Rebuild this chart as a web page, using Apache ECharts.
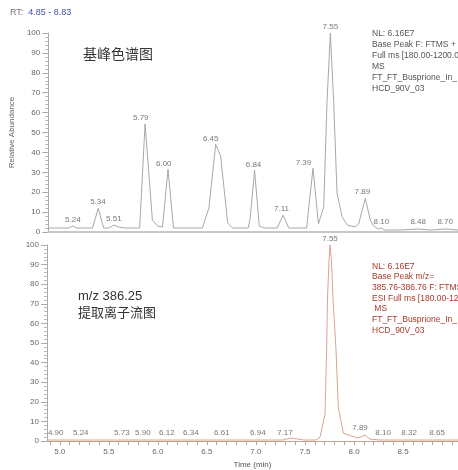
<!DOCTYPE html>
<html><head><meta charset="utf-8">
<script src="https://cdn.jsdelivr.net/npm/echarts@6/dist/echarts.min.js"></script>
<style>html,body{margin:0;padding:0;background:#fff}#c{width:458px;height:470px}</style>
</head><body><div id="c"></div>
<script>
// ---- data (time in min on the drawn axis, relative abundance %) ----
var topTimes  = [4.87,5.08,5.12,5.16,5.323,5.381,5.436,5.49,5.541,5.592,5.653,5.805,5.860,5.935,5.987,6.038,6.051,6.095,6.150,6.204,6.446,6.513,6.582,6.633,6.705,6.755,6.915,6.935,6.980,7.028,7.082,7.211,7.272,7.330,7.512,7.577,7.633,7.687,7.721,7.755,7.789,7.823,7.874,7.926,8.010,8.044,8.112,8.163,8.197,8.245,8.276,8.306,8.469,8.653,8.776,8.929,9.06];
var topValues = [2,2,3,2,2,11.9,2,2,3.5,2.5,2,2,54.3,6,3,2.5,3,31.5,2,2,2,12,44,38,4.5,2,2,7,31,3,2,2,8.5,2,2,32,4,12.7,66,100,65,19.6,7.7,3.5,2.5,4,17,6,3,1.5,2,1,1,1.5,1,1.5,1];
var topLabelTimes  = [5.122,5.378,5.541,5.816,6.051,6.531,6.969,7.255,7.480,7.755,8.082,8.276,8.653,8.929];
var topLabelValues = [3,12,3.5,54.3,31.5,44,31,8.5,32,100,17,2,2,2];
var topLabelTexts  = ["5.24","5.34","5.51","5.79","6.00","6.45","6.84","7.11","7.39","7.55","7.89","8.10","8.48","8.70"];

var botTimes  = [4.87,7.276,7.347,7.429,7.490,7.612,7.653,7.704,7.721,7.729,7.745,7.755,7.770,7.786,7.816,7.840,7.891,7.977,8.041,8.112,8.163,8.265,9.06];
var botValues = [0.5,0.5,1.5,1,0.5,0.5,2,13.7,47,72,92,100,92,72,47,17,4,2.5,1.5,3,1,0.5,0.5];
var botLabelTimes  = [4.959,5.214,5.633,5.847,6.092,6.337,6.653,7.020,7.296,7.755,8.061,8.296,8.561,8.847];
var botLabelValues = [1,1,1,1,1,1,1,1,1,100,3.5,1,1,1];
var botLabelTexts  = ["4.90","5.24","5.73","5.90","6.12","6.34","6.61","6.94","7.17","7.55","7.89","8.10","8.32","8.65"];

var xTickLabels = [5.0,5.5,6.0,6.5,7.0,7.5,8.0,8.5];
var xMinorTicks = [4.9,5.0,5.1,5.2,5.3,5.4,5.5,5.6,5.7,5.8,5.9,6.0,6.1,6.2,6.3,6.4,6.5,6.6,6.7,6.8,6.9,7.0,7.1,7.2,7.3,7.4,7.5,7.6,7.7,7.8,7.9,8.0,8.1,8.2,8.3,8.4,8.5,8.6,8.7,8.8,8.9,9.0];

var topInfo = ["NL: 6.16E7","Base Peak F: FTMS +","Full ms [180.00-1200.0","MS","FT_FT_Busprione_In_","HCD_90V_03"];
var botInfo = ["NL: 6.16E7","Base Peak m/z=","385.76-386.76 F: FTMS","ESI Full ms [180.00-120"," MS","FT_FT_Busprione_In_","HCD_90V_03"];

var FONT = '"Liberation Sans Narrow","Liberation Sans",Arial,sans-serif';
function zip(a,b){return a.map(function(v,i){return [v,b[i]];});}
function lab(t,v,s){return t.map(function(x,i){return {name:s[i],value:[x,v[i]]};});}

var XMIN = 4.87, XMAX = 9.06;
function yAxis(idx,name){
  return {gridIndex:idx,min:0,max:100,interval:10,
    name:name,nameLocation:'middle',nameGap:24,
    nameTextStyle:{fontFamily:FONT,fontSize:8,color:'#666'},
    axisLine:{show:true,lineStyle:{color:'#aaa',width:1}},
    axisTick:{show:true,inside:false,length:6,lineStyle:{color:'#aaa'}},
    minorTick:{show:true,splitNumber:5,length:3,lineStyle:{color:'#bbb'}},
    axisLabel:{fontFamily:FONT,fontSize:8,color:'#666',margin:8},
    splitLine:{show:false}};
}
var option = {
  animation:false,
  grid:[{left:47,top:33,right:0,height:199},{left:47,top:245,right:0,height:199}],
  xAxis:[
    {type:'value',gridIndex:0,min:XMIN,max:XMAX,
      axisLine:{lineStyle:{color:'#c8c8c8',width:2}},axisTick:{show:false},axisLabel:{show:false},splitLine:{show:false}},
    {type:'value',gridIndex:1,min:XMIN,max:XMAX,
      name:'Time (min)',nameLocation:'middle',nameGap:20,
      nameTextStyle:{fontFamily:FONT,fontSize:8,color:'#555'},
      axisLine:{lineStyle:{color:'#c9a090',width:1}},
      axisTick:{show:true,length:4,customValues:xMinorTicks,lineStyle:{color:'#aaa'}},
      axisLabel:{fontFamily:FONT,fontSize:8,color:'#666',margin:7,customValues:xTickLabels,
        formatter:function(v){return v.toFixed(1);}},
      splitLine:{show:false}}
  ],
  yAxis:[yAxis(0,'Relative Abundance'),yAxis(1,'')],
  series:[
    {type:'line',xAxisIndex:0,yAxisIndex:0,data:zip(topTimes,topValues),symbol:'none',
      lineStyle:{color:'#a8a8a8',width:1}},
    {type:'scatter',xAxisIndex:0,yAxisIndex:0,data:lab(topLabelTimes,topLabelValues,topLabelTexts),
      symbolSize:0,label:{show:true,position:'top',distance:2,formatter:'{b}',
      fontFamily:FONT,fontSize:8,color:'#555'}},
    {type:'line',xAxisIndex:1,yAxisIndex:1,data:zip(botTimes,botValues),symbol:'none',
      lineStyle:{color:'#d9a48e',width:1}},
    {type:'scatter',xAxisIndex:1,yAxisIndex:1,data:lab(botLabelTimes,botLabelValues,botLabelTexts),
      symbolSize:0,label:{show:true,position:'top',distance:2,formatter:'{b}',
      fontFamily:FONT,fontSize:8,color:'#555'}}
  ],
  graphic:[
    {type:'text',left:10,top:8,style:{text:'{a|RT:}  {b|4.85 - 8.83}',fontFamily:FONT,fontSize:9,
      rich:{a:{fill:'#777',fontSize:9,fontFamily:FONT},b:{fill:'#4050a8',fontSize:9,fontFamily:FONT}}}},
    {type:'text',left:83,top:47,style:{text:'基峰色谱图',fontFamily:'"Noto Sans CJK SC"',fontSize:14,fill:'#333'}},
    {type:'text',left:372,top:28,style:{text:topInfo.join('\n'),fontFamily:FONT,fontSize:8.5,lineHeight:11,fill:'#555'}},
    {type:'text',left:78,top:288,style:{text:'m/z 386.25\n提取离子流图',fontFamily:'"Liberation Sans","Noto Sans CJK SC"',fontSize:13,lineHeight:17,fill:'#333'}},
    {type:'text',left:372,top:261,style:{text:botInfo.join('\n'),fontFamily:FONT,fontSize:8.5,lineHeight:10.7,fill:'#a83a2a'}}
  ]
};
echarts.init(document.getElementById('c')).setOption(option);
</script></body></html>
